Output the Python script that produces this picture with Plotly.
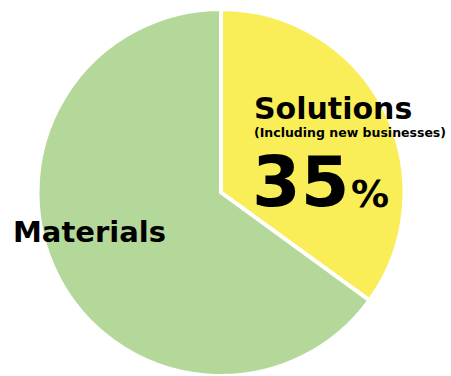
import plotly.graph_objects as go

labels = ["Solutions", "Materials"]
values = [35, 65]
colors = ["#F9EE57", "#B4D899"]

W, H = 451, 376

fig = go.Figure(go.Pie(
    labels=labels, values=values, sort=False, direction="clockwise", rotation=0,
    marker=dict(colors=colors, line=dict(color="white", width=4)),
    textinfo="none", hoverinfo="label+percent", showlegend=False,
    domain=dict(x=[35.5 / W, 406.5 / W], y=[0, 367 / H]),
))

font = "DejaVu Sans"

def px(x):
    return x / W

def py(y):
    return 1 - y / H

anns = [
    dict(text="<b>Solutions</b>", x=px(252), y=py(108), size=30),
    dict(text="<b>(Including new businesses)</b>", x=px(252), y=py(132), size=12.5),
    dict(text="<b>%s</b>" % values[0], x=px(250), y=py(182), size=70),
    dict(text="<b>%</b>", x=px(349), y=py(194), size=38),
    dict(text="<b>%s</b>" % labels[1], x=px(11), y=py(232), size=29),
]
fig.update_layout(
    width=W, height=H, margin=dict(l=0, r=0, t=0, b=0),
    paper_bgcolor="white", plot_bgcolor="white",
    annotations=[dict(text=a["text"], x=a["x"], y=a["y"], xref="paper", yref="paper",
                      xanchor="left", yanchor="middle", showarrow=False,
                      font=dict(family=font, size=a["size"], color="black"))
                 for a in anns],
)
fig.write_html("out.html", config={"displayModeBar": False},
               post_script="document.body.style.margin='0';")
